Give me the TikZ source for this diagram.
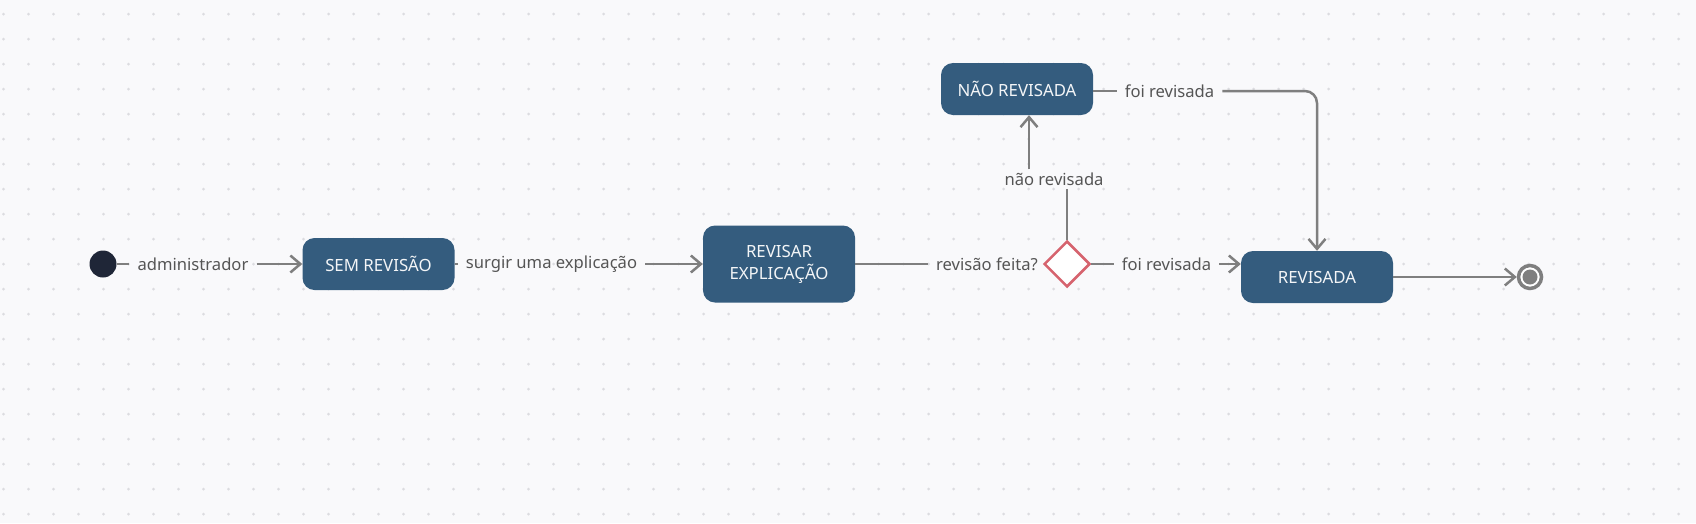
\documentclass[tikz,border=0pt]{standalone}
\usepackage{fontspec}
\setmainfont{Noto Sans}
\usetikzlibrary{arrows.meta,shapes.geometric}
\definecolor{bg}{HTML}{F9F9FB}
\definecolor{dotc}{HTML}{DCDCE0}
\definecolor{boxc}{HTML}{345C7E}
\definecolor{linec}{HTML}{7F7F7F}
\definecolor{labc}{HTML}{555555}
\definecolor{initc}{HTML}{1F2637}
\definecolor{diac}{HTML}{D6636E}
\begin{document}
\begin{tikzpicture}[x=1pt,y=-1pt,
  state/.style={rectangle, rounded corners=12pt, fill=boxc, text=white!94!boxc,
    minimum width=152pt, minimum height=52pt, inner sep=0pt,
    font=\fontsize{16.8}{22}\selectfont, align=center},
  lab/.style={text=labc, font=\fontsize{16.6}{20}\selectfont, inner xsep=8pt, inner ysep=3pt},
  conn/.style={draw=linec, line width=2.5pt},
  arr/.style={conn, -{Straight Barb[length=10pt,width=17pt,line width=2.5pt]}},
]
\fill[bg] (0,0) rectangle (1696,523);
\useasboundingbox (0,0) rectangle (1696,523);
\foreach \i in {0,...,67}{\foreach \j in {0,...,20}{\fill[dotc] (3.5+25*\i,14+25*\j) circle (1.5pt);}}

\node[circle, fill=initc, minimum size=27pt, inner sep=0pt] (init) at (103,264) {};
\node[lab] (l1) at (193,264) {administrador};
\node[state] (sem) at (378.5,264) {SEM REVISÃO};
\node[lab] (l2) at (551.5,264) {surgir uma explicação};
\node[state, minimum height=77pt] (rev) at (779,264) {REVISAR\\EXPLICAÇÃO};
\node[lab] (l3) at (987,264) {revisão feita?};
\node[diamond, draw=diac, fill=white, line width=2.5pt, minimum width=46pt, minimum height=46pt, inner sep=0pt] (dia) at (1067,264) {};
\node[lab] (l4) at (1166.5,264) {foi revisada};
\node[state] (rvd) at (1317,277) {REVISADA};
\node[circle, draw=linec, line width=3.5pt, fill=white, minimum size=23pt, inner sep=0pt] (fin) at (1530,277) {};
\fill[linec] (fin.center) circle (7.5pt);
\node[state] (nao) at (1017,89) {NÃO REVISADA};
\node[lab] (l5) at (1054,179) {não revisada};
\node[lab] (l6) at (1169.5,91) {foi revisada};

\draw[conn] (init) -- (l1);
\draw[arr] (l1) -- (sem);
\draw[conn] (sem) -- (l2);
\draw[arr] (l2) -- (rev);
\draw[conn] (rev) -- (l3);
\draw[conn] (dia) -- (l4);
\draw[arr] (l4.east) -- (l4.east -| rvd.west);
\draw[conn] (dia.north) -- (dia.north |- l5.south);
\draw[arr] ([xshift=12pt]nao.south |- l5.north) -- ([xshift=12pt]nao.south);
\draw[conn] (nao.east |- l6) -- (l6.west);
\draw[arr, rounded corners=12pt] (l6.east) -- (l6.east -| rvd.north) -- (rvd.north);
\draw[arr] (rvd.east) -- (fin.west);
\end{tikzpicture}
\end{document}
